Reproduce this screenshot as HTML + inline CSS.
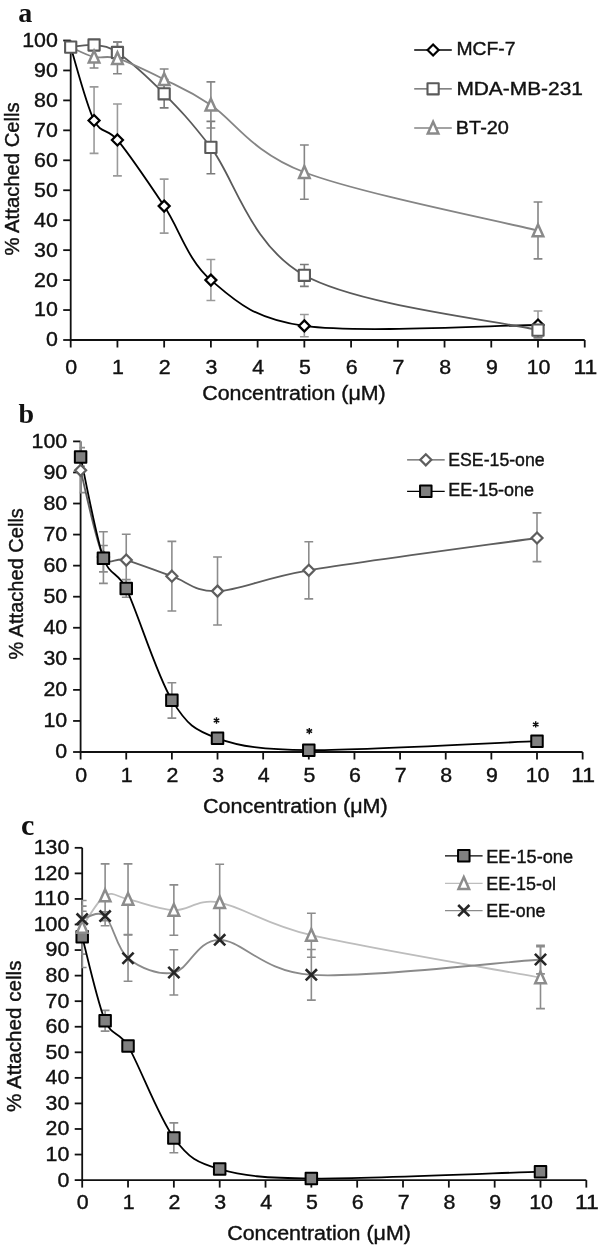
<!DOCTYPE html>
<html><head><meta charset="utf-8"><style>
html,body{margin:0;padding:0;background:#fff;}
svg{filter:grayscale(1);}
svg{display:block;}
text{font-family:"Liberation Sans", sans-serif;fill:#111;stroke:#111;stroke-width:0.4px;}
.pl{font-family:"Liberation Serif", serif;font-weight:bold;stroke:none;}
</style></head><body>
<svg width="598" height="1248" viewBox="0 0 598 1248">
<rect width="598" height="1248" fill="#fff"/>
<path d="M70.7,40.5 V340 H584.73" fill="none" stroke="#111" stroke-width="1.8"/>
<path d="M63.2,340 H70.7" stroke="#111" stroke-width="1.8"/>
<path d="M63.2,310.05 H70.7" stroke="#111" stroke-width="1.8"/>
<path d="M63.2,280.1 H70.7" stroke="#111" stroke-width="1.8"/>
<path d="M63.2,250.15 H70.7" stroke="#111" stroke-width="1.8"/>
<path d="M63.2,220.2 H70.7" stroke="#111" stroke-width="1.8"/>
<path d="M63.2,190.25 H70.7" stroke="#111" stroke-width="1.8"/>
<path d="M63.2,160.3 H70.7" stroke="#111" stroke-width="1.8"/>
<path d="M63.2,130.35 H70.7" stroke="#111" stroke-width="1.8"/>
<path d="M63.2,100.4 H70.7" stroke="#111" stroke-width="1.8"/>
<path d="M63.2,70.45 H70.7" stroke="#111" stroke-width="1.8"/>
<path d="M63.2,40.5 H70.7" stroke="#111" stroke-width="1.8"/>
<path d="M70.7,340 V347.5" stroke="#111" stroke-width="1.8"/>
<path d="M117.43,340 V347.5" stroke="#111" stroke-width="1.8"/>
<path d="M164.16,340 V347.5" stroke="#111" stroke-width="1.8"/>
<path d="M210.89,340 V347.5" stroke="#111" stroke-width="1.8"/>
<path d="M257.62,340 V347.5" stroke="#111" stroke-width="1.8"/>
<path d="M304.35,340 V347.5" stroke="#111" stroke-width="1.8"/>
<path d="M351.08,340 V347.5" stroke="#111" stroke-width="1.8"/>
<path d="M397.81,340 V347.5" stroke="#111" stroke-width="1.8"/>
<path d="M444.54,340 V347.5" stroke="#111" stroke-width="1.8"/>
<path d="M491.27,340 V347.5" stroke="#111" stroke-width="1.8"/>
<path d="M538,340 V347.5" stroke="#111" stroke-width="1.8"/>
<path d="M584.73,340 V347.5" stroke="#111" stroke-width="1.8"/>
<text x="57.9" y="346.4" text-anchor="end" font-size="20.8" textLength="11.9" lengthAdjust="spacingAndGlyphs">0</text>
<text x="57.9" y="316.45" text-anchor="end" font-size="20.8" textLength="23.8" lengthAdjust="spacingAndGlyphs">10</text>
<text x="57.9" y="286.5" text-anchor="end" font-size="20.8" textLength="23.8" lengthAdjust="spacingAndGlyphs">20</text>
<text x="57.9" y="256.55" text-anchor="end" font-size="20.8" textLength="23.8" lengthAdjust="spacingAndGlyphs">30</text>
<text x="57.9" y="226.6" text-anchor="end" font-size="20.8" textLength="23.8" lengthAdjust="spacingAndGlyphs">40</text>
<text x="57.9" y="196.65" text-anchor="end" font-size="20.8" textLength="23.8" lengthAdjust="spacingAndGlyphs">50</text>
<text x="57.9" y="166.7" text-anchor="end" font-size="20.8" textLength="23.8" lengthAdjust="spacingAndGlyphs">60</text>
<text x="57.9" y="136.75" text-anchor="end" font-size="20.8" textLength="23.8" lengthAdjust="spacingAndGlyphs">70</text>
<text x="57.9" y="106.8" text-anchor="end" font-size="20.8" textLength="23.8" lengthAdjust="spacingAndGlyphs">80</text>
<text x="57.9" y="76.85" text-anchor="end" font-size="20.8" textLength="23.8" lengthAdjust="spacingAndGlyphs">90</text>
<text x="57.9" y="46.9" text-anchor="end" font-size="20.8" textLength="35.7" lengthAdjust="spacingAndGlyphs">100</text>
<text x="71.3" y="373.5" text-anchor="middle" font-size="20.8" textLength="11.9" lengthAdjust="spacingAndGlyphs">0</text>
<text x="118.03" y="373.5" text-anchor="middle" font-size="20.8" textLength="11.9" lengthAdjust="spacingAndGlyphs">1</text>
<text x="164.76" y="373.5" text-anchor="middle" font-size="20.8" textLength="11.9" lengthAdjust="spacingAndGlyphs">2</text>
<text x="211.49" y="373.5" text-anchor="middle" font-size="20.8" textLength="11.9" lengthAdjust="spacingAndGlyphs">3</text>
<text x="258.22" y="373.5" text-anchor="middle" font-size="20.8" textLength="11.9" lengthAdjust="spacingAndGlyphs">4</text>
<text x="304.95" y="373.5" text-anchor="middle" font-size="20.8" textLength="11.9" lengthAdjust="spacingAndGlyphs">5</text>
<text x="351.68" y="373.5" text-anchor="middle" font-size="20.8" textLength="11.9" lengthAdjust="spacingAndGlyphs">6</text>
<text x="398.41" y="373.5" text-anchor="middle" font-size="20.8" textLength="11.9" lengthAdjust="spacingAndGlyphs">7</text>
<text x="445.14" y="373.5" text-anchor="middle" font-size="20.8" textLength="11.9" lengthAdjust="spacingAndGlyphs">8</text>
<text x="491.87" y="373.5" text-anchor="middle" font-size="20.8" textLength="11.9" lengthAdjust="spacingAndGlyphs">9</text>
<text x="538.6" y="373.5" text-anchor="middle" font-size="20.8" textLength="23.8" lengthAdjust="spacingAndGlyphs">10</text>
<text x="585.33" y="373.5" text-anchor="middle" font-size="20.8" textLength="23.8" lengthAdjust="spacingAndGlyphs">11</text>
<text x="202.2" y="399.8" font-size="20" textLength="183.5" lengthAdjust="spacingAndGlyphs">Concentration (μM)</text>
<text transform="translate(18.8,255.4) rotate(-90)" font-size="20" textLength="153.1" lengthAdjust="spacingAndGlyphs">% Attached Cells</text>
<text x="18.3" y="22.4" class="pl" font-size="28">a</text>
<clipPath id="clipa"><rect x="69.7" y="40.2" width="534.03" height="299.8"/></clipPath>
<path clip-path="url(#clipa)" d="M94.06,86.92 V153.41 M89.66,86.92 H98.47 M89.66,153.41 H98.47 M117.43,103.99 V175.87 M113.03,103.99 H121.83 M113.03,175.87 H121.83 M164.16,179.17 V233.08 M159.76,179.17 H168.56 M159.76,233.08 H168.56 M210.89,259.43 V300.47 M206.49,259.43 H215.29 M206.49,300.47 H215.29 M304.35,314.54 V336.71 M299.95,314.54 H308.75 M299.95,336.71 H308.75 M538,310.95 V337.6 M533.6,310.95 H542.4 M533.6,337.6 H542.4" fill="none" stroke="#9a9a9a" stroke-width="1.6"/>
<path clip-path="url(#clipa)" d="M117.43,42 V63.26 M113.03,42 H121.83 M113.03,63.26 H121.83 M164.16,79.44 V107.89 M159.76,79.44 H168.56 M159.76,107.89 H168.56 M210.89,121.36 V173.78 M206.49,121.36 H215.29 M206.49,173.78 H215.29 M304.35,264.53 V286.39 M299.95,264.53 H308.75 M299.95,286.39 H308.75 M538,323.53 V337.6 M533.6,323.53 H542.4 M533.6,337.6 H542.4" fill="none" stroke="#7a7a7a" stroke-width="1.6"/>
<path clip-path="url(#clipa)" d="M94.06,46.49 V68.05 M89.66,46.49 H98.47 M89.66,68.05 H98.47 M117.43,42 V73.74 M113.03,42 H121.83 M113.03,73.74 H121.83 M164.16,68.95 V89.92 M159.76,68.95 H168.56 M159.76,89.92 H168.56 M210.89,81.83 V127.95 M206.49,81.83 H215.29 M206.49,127.95 H215.29 M304.35,145.03 V199.23 M299.95,145.03 H308.75 M299.95,199.23 H308.75 M538,201.93 V258.84 M533.6,201.93 H542.4 M533.6,258.84 H542.4" fill="none" stroke="#858585" stroke-width="1.6"/>
<path d="M70.7,47.09 C74.59,59.32 86.28,104.99 94.06,120.47 C100.9,134.05 107.8,128.17 117.43,139.93 C129.11,154.21 148.58,182.76 164.16,206.12 C179.74,229.48 187.52,260.13 210.89,280.1 C234.25,300.07 252.79,318.84 304.35,325.92 C358.87,333.41 499.06,325.17 538,325.02" fill="none" stroke="#000" stroke-width="1.8"/>
<path d="M70.7,47.09 C74.59,46.74 86.28,44.09 94.06,44.99 C101.85,45.89 107.36,45.47 117.43,52.48 C129.11,60.62 148.58,77.99 164.16,93.81 C179.74,109.63 189.15,119.28 210.89,147.42 C234.25,177.67 249.83,244.86 304.35,275.31 C358.87,305.76 499.06,320.98 538,330.12" fill="none" stroke="#5a5a5a" stroke-width="1.8"/>
<path d="M70.7,47.09 C74.59,48.74 86.28,55.08 94.06,56.97 C101.85,58.87 106.28,54.9 117.43,58.47 C129.11,62.21 148.58,71.7 164.16,79.44 C179.74,87.17 188.71,90.2 210.89,104.89 C234.25,120.37 250.58,151.6 304.35,172.28 C358.87,193.25 499.06,220.95 538,230.68" fill="none" stroke="#858585" stroke-width="1.8"/>
<path d="M94.06,114.97 L99.56,120.47 L94.06,125.97 L88.56,120.47Z" fill="#fff" stroke="#000" stroke-width="2.25" stroke-linejoin="miter"/>
<path d="M117.43,134.43 L122.93,139.93 L117.43,145.43 L111.93,139.93Z" fill="#fff" stroke="#000" stroke-width="2.25" stroke-linejoin="miter"/>
<path d="M164.16,200.62 L169.66,206.12 L164.16,211.62 L158.66,206.12Z" fill="#fff" stroke="#000" stroke-width="2.25" stroke-linejoin="miter"/>
<path d="M210.89,274.6 L216.39,280.1 L210.89,285.6 L205.39,280.1Z" fill="#fff" stroke="#000" stroke-width="2.25" stroke-linejoin="miter"/>
<path d="M304.35,320.42 L309.85,325.92 L304.35,331.42 L298.85,325.92Z" fill="#fff" stroke="#000" stroke-width="2.25" stroke-linejoin="miter"/>
<path d="M538,319.52 L543.5,325.02 L538,330.52 L532.5,325.02Z" fill="#fff" stroke="#000" stroke-width="2.25" stroke-linejoin="miter"/>
<rect x="65.1" y="41.49" width="11.2" height="11.2" fill="#fff" stroke="#5a5a5a" stroke-width="2.1" stroke-linejoin="round"/>
<rect x="88.47" y="39.39" width="11.2" height="11.2" fill="#fff" stroke="#5a5a5a" stroke-width="2.1" stroke-linejoin="round"/>
<rect x="111.83" y="46.88" width="11.2" height="11.2" fill="#fff" stroke="#5a5a5a" stroke-width="2.1" stroke-linejoin="round"/>
<rect x="158.56" y="88.21" width="11.2" height="11.2" fill="#fff" stroke="#5a5a5a" stroke-width="2.1" stroke-linejoin="round"/>
<rect x="205.29" y="141.82" width="11.2" height="11.2" fill="#fff" stroke="#5a5a5a" stroke-width="2.1" stroke-linejoin="round"/>
<rect x="298.75" y="269.71" width="11.2" height="11.2" fill="#fff" stroke="#5a5a5a" stroke-width="2.1" stroke-linejoin="round"/>
<rect x="532.4" y="324.52" width="11.2" height="11.2" fill="#fff" stroke="#5a5a5a" stroke-width="2.1" stroke-linejoin="round"/>
<path d="M94.06,50.77 L99.36,62.57 L88.77,62.57Z" fill="#fff" stroke="#8a8a8a" stroke-width="2.5" stroke-linejoin="miter"/>
<path d="M117.43,52.27 L122.73,64.07 L112.13,64.07Z" fill="#fff" stroke="#8a8a8a" stroke-width="2.5" stroke-linejoin="miter"/>
<path d="M164.16,73.23 L169.46,85.03 L158.86,85.03Z" fill="#fff" stroke="#8a8a8a" stroke-width="2.5" stroke-linejoin="miter"/>
<path d="M210.89,98.69 L216.19,110.49 L205.59,110.49Z" fill="#fff" stroke="#8a8a8a" stroke-width="2.5" stroke-linejoin="miter"/>
<path d="M304.35,166.08 L309.65,177.88 L299.05,177.88Z" fill="#fff" stroke="#8a8a8a" stroke-width="2.5" stroke-linejoin="miter"/>
<path d="M538,224.48 L543.3,236.28 L532.7,236.28Z" fill="#fff" stroke="#8a8a8a" stroke-width="2.5" stroke-linejoin="miter"/>
<path d="M414.2,50 H451.8" stroke="#000" stroke-width="1.3"/>
<path d="M433.1,44.5 L438.6,50 L433.1,55.5 L427.6,50Z" fill="#fff" stroke="#000" stroke-width="2.25" stroke-linejoin="miter"/>
<text x="456.4" y="55.4" font-size="19" textLength="59.1" lengthAdjust="spacingAndGlyphs">MCF-7</text>
<path d="M414.2,88.8 H451.8" stroke="#5a5a5a" stroke-width="1.3"/>
<rect x="427.5" y="83.2" width="11.2" height="11.2" fill="#fff" stroke="#5a5a5a" stroke-width="2.1" stroke-linejoin="round"/>
<text x="456.4" y="95" font-size="19" textLength="126.5" lengthAdjust="spacingAndGlyphs">MDA-MB-231</text>
<path d="M414.2,128 H451.8" stroke="#858585" stroke-width="1.3"/>
<path d="M433.1,121.8 L438.4,133.6 L427.8,133.6Z" fill="#fff" stroke="#8a8a8a" stroke-width="2.5" stroke-linejoin="miter"/>
<text x="455.8" y="133.8" font-size="19" textLength="53.1" lengthAdjust="spacingAndGlyphs">BT-20</text>
<path d="M80.6,441.4 V752 H582.64" fill="none" stroke="#111" stroke-width="1.8"/>
<path d="M73.1,752 H80.6" stroke="#111" stroke-width="1.8"/>
<path d="M73.1,720.94 H80.6" stroke="#111" stroke-width="1.8"/>
<path d="M73.1,689.88 H80.6" stroke="#111" stroke-width="1.8"/>
<path d="M73.1,658.82 H80.6" stroke="#111" stroke-width="1.8"/>
<path d="M73.1,627.76 H80.6" stroke="#111" stroke-width="1.8"/>
<path d="M73.1,596.7 H80.6" stroke="#111" stroke-width="1.8"/>
<path d="M73.1,565.64 H80.6" stroke="#111" stroke-width="1.8"/>
<path d="M73.1,534.58 H80.6" stroke="#111" stroke-width="1.8"/>
<path d="M73.1,503.52 H80.6" stroke="#111" stroke-width="1.8"/>
<path d="M73.1,472.46 H80.6" stroke="#111" stroke-width="1.8"/>
<path d="M73.1,441.4 H80.6" stroke="#111" stroke-width="1.8"/>
<path d="M80.6,752 V759.5" stroke="#111" stroke-width="1.8"/>
<path d="M126.24,752 V759.5" stroke="#111" stroke-width="1.8"/>
<path d="M171.88,752 V759.5" stroke="#111" stroke-width="1.8"/>
<path d="M217.52,752 V759.5" stroke="#111" stroke-width="1.8"/>
<path d="M263.16,752 V759.5" stroke="#111" stroke-width="1.8"/>
<path d="M308.8,752 V759.5" stroke="#111" stroke-width="1.8"/>
<path d="M354.44,752 V759.5" stroke="#111" stroke-width="1.8"/>
<path d="M400.08,752 V759.5" stroke="#111" stroke-width="1.8"/>
<path d="M445.72,752 V759.5" stroke="#111" stroke-width="1.8"/>
<path d="M491.36,752 V759.5" stroke="#111" stroke-width="1.8"/>
<path d="M537,752 V759.5" stroke="#111" stroke-width="1.8"/>
<path d="M582.64,752 V759.5" stroke="#111" stroke-width="1.8"/>
<text x="67.2" y="758.4" text-anchor="end" font-size="20.8" textLength="11.9" lengthAdjust="spacingAndGlyphs">0</text>
<text x="67.2" y="727.34" text-anchor="end" font-size="20.8" textLength="23.8" lengthAdjust="spacingAndGlyphs">10</text>
<text x="67.2" y="696.28" text-anchor="end" font-size="20.8" textLength="23.8" lengthAdjust="spacingAndGlyphs">20</text>
<text x="67.2" y="665.22" text-anchor="end" font-size="20.8" textLength="23.8" lengthAdjust="spacingAndGlyphs">30</text>
<text x="67.2" y="634.16" text-anchor="end" font-size="20.8" textLength="23.8" lengthAdjust="spacingAndGlyphs">40</text>
<text x="67.2" y="603.1" text-anchor="end" font-size="20.8" textLength="23.8" lengthAdjust="spacingAndGlyphs">50</text>
<text x="67.2" y="572.04" text-anchor="end" font-size="20.8" textLength="23.8" lengthAdjust="spacingAndGlyphs">60</text>
<text x="67.2" y="540.98" text-anchor="end" font-size="20.8" textLength="23.8" lengthAdjust="spacingAndGlyphs">70</text>
<text x="67.2" y="509.92" text-anchor="end" font-size="20.8" textLength="23.8" lengthAdjust="spacingAndGlyphs">80</text>
<text x="67.2" y="478.86" text-anchor="end" font-size="20.8" textLength="23.8" lengthAdjust="spacingAndGlyphs">90</text>
<text x="67.2" y="447.8" text-anchor="end" font-size="20.8" textLength="35.7" lengthAdjust="spacingAndGlyphs">100</text>
<text x="81.2" y="782.2" text-anchor="middle" font-size="20.8" textLength="11.9" lengthAdjust="spacingAndGlyphs">0</text>
<text x="126.84" y="782.2" text-anchor="middle" font-size="20.8" textLength="11.9" lengthAdjust="spacingAndGlyphs">1</text>
<text x="172.48" y="782.2" text-anchor="middle" font-size="20.8" textLength="11.9" lengthAdjust="spacingAndGlyphs">2</text>
<text x="218.12" y="782.2" text-anchor="middle" font-size="20.8" textLength="11.9" lengthAdjust="spacingAndGlyphs">3</text>
<text x="263.76" y="782.2" text-anchor="middle" font-size="20.8" textLength="11.9" lengthAdjust="spacingAndGlyphs">4</text>
<text x="309.4" y="782.2" text-anchor="middle" font-size="20.8" textLength="11.9" lengthAdjust="spacingAndGlyphs">5</text>
<text x="355.04" y="782.2" text-anchor="middle" font-size="20.8" textLength="11.9" lengthAdjust="spacingAndGlyphs">6</text>
<text x="400.68" y="782.2" text-anchor="middle" font-size="20.8" textLength="11.9" lengthAdjust="spacingAndGlyphs">7</text>
<text x="446.32" y="782.2" text-anchor="middle" font-size="20.8" textLength="11.9" lengthAdjust="spacingAndGlyphs">8</text>
<text x="491.96" y="782.2" text-anchor="middle" font-size="20.8" textLength="11.9" lengthAdjust="spacingAndGlyphs">9</text>
<text x="537.6" y="782.2" text-anchor="middle" font-size="20.8" textLength="23.8" lengthAdjust="spacingAndGlyphs">10</text>
<text x="583.24" y="782.2" text-anchor="middle" font-size="20.8" textLength="23.8" lengthAdjust="spacingAndGlyphs">11</text>
<text x="203" y="813.2" font-size="20" textLength="184.7" lengthAdjust="spacingAndGlyphs">Concentration (μM)</text>
<text transform="translate(23,659.6) rotate(-90)" font-size="20" textLength="151.5" lengthAdjust="spacingAndGlyphs">% Attached Cells</text>
<text x="18.5" y="422.6" class="pl" font-size="28">b</text>
<clipPath id="clipb"><rect x="79.6" y="441.1" width="522.04" height="310.9"/></clipPath>
<path clip-path="url(#clipb)" d="M80.6,432.08 V492.65 M76.2,432.08 H85 M76.2,492.65 H85 M103.42,531.78 V583.34 M99.02,531.78 H107.82 M99.02,583.34 H107.82 M126.24,534.27 V585.83 M121.84,534.27 H130.64 M121.84,585.83 H130.64 M171.88,541.41 V610.99 M167.48,541.41 H176.28 M167.48,610.99 H176.28 M217.52,556.94 V624.96 M213.12,556.94 H221.92 M213.12,624.96 H221.92 M308.8,541.72 V598.87 M304.4,541.72 H313.2 M304.4,598.87 H313.2 M537,512.84 V561.6 M532.6,512.84 H541.4 M532.6,561.6 H541.4" fill="none" stroke="#8c8c8c" stroke-width="1.6"/>
<path clip-path="url(#clipb)" d="M80.6,447.61 V466.25 M76.2,447.61 H85 M76.2,466.25 H85 M103.42,545.45 V571.85 M99.02,545.45 H107.82 M99.02,571.85 H107.82 M126.24,579.62 V597.32 M121.84,579.62 H130.64 M121.84,597.32 H130.64 M171.88,682.74 V718.14 M167.48,682.74 H176.28 M167.48,718.14 H176.28" fill="none" stroke="#8c8c8c" stroke-width="1.6"/>
<path d="M80.6,470.29 C84.4,484.73 95.81,541.98 103.42,556.94 C108.64,567.21 115.15,556.93 126.24,560.05 C137.65,563.26 156.67,571.02 171.88,576.2 C187.09,581.38 194.7,592.09 217.52,591.11 C240.34,590.13 262.62,577.98 308.8,570.3 C362.05,561.45 498.97,543.38 537,538" fill="none" stroke="#5e5e5e" stroke-width="1.8"/>
<path d="M80.6,456.93 C84.4,473.81 95.81,536.24 103.42,558.19 C109.65,576.16 117.98,571.49 126.24,588.62 C137.65,612.28 156.67,675.18 171.88,700.13 C187.09,725.08 194.7,730 217.52,738.33 C240.34,746.67 262.78,749.73 308.8,750.14 C362.05,750.6 498.97,742.63 537,741.13" fill="none" stroke="#000" stroke-width="1.8"/>
<path d="M80.6,464.79 L86.1,470.29 L80.6,475.79 L75.1,470.29Z" fill="#fff" stroke="#5e5e5e" stroke-width="2.25" stroke-linejoin="miter"/>
<path d="M103.42,551.44 L108.92,556.94 L103.42,562.44 L97.92,556.94Z" fill="#fff" stroke="#5e5e5e" stroke-width="2.25" stroke-linejoin="miter"/>
<path d="M126.24,554.55 L131.74,560.05 L126.24,565.55 L120.74,560.05Z" fill="#fff" stroke="#5e5e5e" stroke-width="2.25" stroke-linejoin="miter"/>
<path d="M171.88,570.7 L177.38,576.2 L171.88,581.7 L166.38,576.2Z" fill="#fff" stroke="#5e5e5e" stroke-width="2.25" stroke-linejoin="miter"/>
<path d="M217.52,585.61 L223.02,591.11 L217.52,596.61 L212.02,591.11Z" fill="#fff" stroke="#5e5e5e" stroke-width="2.25" stroke-linejoin="miter"/>
<path d="M308.8,564.8 L314.3,570.3 L308.8,575.8 L303.3,570.3Z" fill="#fff" stroke="#5e5e5e" stroke-width="2.25" stroke-linejoin="miter"/>
<path d="M537,532.5 L542.5,538 L537,543.5 L531.5,538Z" fill="#fff" stroke="#5e5e5e" stroke-width="2.25" stroke-linejoin="miter"/>
<rect x="74.85" y="451.18" width="11.5" height="11.5" fill="#808080" stroke="#000" stroke-width="2.0" stroke-linejoin="round"/>
<rect x="97.67" y="552.44" width="11.5" height="11.5" fill="#808080" stroke="#000" stroke-width="2.0" stroke-linejoin="round"/>
<rect x="120.49" y="582.87" width="11.5" height="11.5" fill="#808080" stroke="#000" stroke-width="2.0" stroke-linejoin="round"/>
<rect x="166.13" y="694.38" width="11.5" height="11.5" fill="#808080" stroke="#000" stroke-width="2.0" stroke-linejoin="round"/>
<rect x="211.77" y="732.58" width="11.5" height="11.5" fill="#808080" stroke="#000" stroke-width="2.0" stroke-linejoin="round"/>
<rect x="303.05" y="744.39" width="11.5" height="11.5" fill="#808080" stroke="#000" stroke-width="2.0" stroke-linejoin="round"/>
<rect x="531.25" y="735.38" width="11.5" height="11.5" fill="#808080" stroke="#000" stroke-width="2.0" stroke-linejoin="round"/>
<path d="M216.5,717.3 L216.5,723.7 M213.73,718.9 L219.27,722.1 M213.73,722.1 L219.27,718.9" stroke="#111" stroke-width="1.45" fill="none"/>
<path d="M309.3,727.9 L309.3,734.3 M306.53,729.5 L312.07,732.7 M306.53,732.7 L312.07,729.5" stroke="#111" stroke-width="1.45" fill="none"/>
<path d="M535.7,721.2 L535.7,727.6 M532.93,722.8 L538.47,726 M532.93,726 L538.47,722.8" stroke="#111" stroke-width="1.45" fill="none"/>
<path d="M407.1,459.8 H444.7" stroke="#5e5e5e" stroke-width="1.3"/>
<path d="M425.8,454.3 L431.3,459.8 L425.8,465.3 L420.3,459.8Z" fill="#fff" stroke="#5e5e5e" stroke-width="2.25" stroke-linejoin="miter"/>
<text x="448.2" y="465.8" font-size="18.5" textLength="96.5" lengthAdjust="spacingAndGlyphs">ESE-15-one</text>
<path d="M407.1,491.3 H444.7" stroke="#000" stroke-width="1.3"/>
<rect x="420.05" y="485.55" width="11.5" height="11.5" fill="#808080" stroke="#000" stroke-width="2.0" stroke-linejoin="round"/>
<text x="448.2" y="496.4" font-size="18.5" textLength="85.9" lengthAdjust="spacingAndGlyphs">EE-15-one</text>
<path d="M82.2,847.82 V1180.1 H586.33" fill="none" stroke="#111" stroke-width="1.8"/>
<path d="M74.7,1180.1 H82.2" stroke="#111" stroke-width="1.8"/>
<path d="M74.7,1154.54 H82.2" stroke="#111" stroke-width="1.8"/>
<path d="M74.7,1128.98 H82.2" stroke="#111" stroke-width="1.8"/>
<path d="M74.7,1103.42 H82.2" stroke="#111" stroke-width="1.8"/>
<path d="M74.7,1077.86 H82.2" stroke="#111" stroke-width="1.8"/>
<path d="M74.7,1052.3 H82.2" stroke="#111" stroke-width="1.8"/>
<path d="M74.7,1026.74 H82.2" stroke="#111" stroke-width="1.8"/>
<path d="M74.7,1001.18 H82.2" stroke="#111" stroke-width="1.8"/>
<path d="M74.7,975.62 H82.2" stroke="#111" stroke-width="1.8"/>
<path d="M74.7,950.06 H82.2" stroke="#111" stroke-width="1.8"/>
<path d="M74.7,924.5 H82.2" stroke="#111" stroke-width="1.8"/>
<path d="M74.7,898.94 H82.2" stroke="#111" stroke-width="1.8"/>
<path d="M74.7,873.38 H82.2" stroke="#111" stroke-width="1.8"/>
<path d="M74.7,847.82 H82.2" stroke="#111" stroke-width="1.8"/>
<path d="M82.2,1180.1 V1187.6" stroke="#111" stroke-width="1.8"/>
<path d="M128.03,1180.1 V1187.6" stroke="#111" stroke-width="1.8"/>
<path d="M173.86,1180.1 V1187.6" stroke="#111" stroke-width="1.8"/>
<path d="M219.69,1180.1 V1187.6" stroke="#111" stroke-width="1.8"/>
<path d="M265.52,1180.1 V1187.6" stroke="#111" stroke-width="1.8"/>
<path d="M311.35,1180.1 V1187.6" stroke="#111" stroke-width="1.8"/>
<path d="M357.18,1180.1 V1187.6" stroke="#111" stroke-width="1.8"/>
<path d="M403.01,1180.1 V1187.6" stroke="#111" stroke-width="1.8"/>
<path d="M448.84,1180.1 V1187.6" stroke="#111" stroke-width="1.8"/>
<path d="M494.67,1180.1 V1187.6" stroke="#111" stroke-width="1.8"/>
<path d="M540.5,1180.1 V1187.6" stroke="#111" stroke-width="1.8"/>
<path d="M586.33,1180.1 V1187.6" stroke="#111" stroke-width="1.8"/>
<text x="69.4" y="1186.5" text-anchor="end" font-size="20.8" textLength="11.9" lengthAdjust="spacingAndGlyphs">0</text>
<text x="69.4" y="1160.94" text-anchor="end" font-size="20.8" textLength="23.8" lengthAdjust="spacingAndGlyphs">10</text>
<text x="69.4" y="1135.38" text-anchor="end" font-size="20.8" textLength="23.8" lengthAdjust="spacingAndGlyphs">20</text>
<text x="69.4" y="1109.82" text-anchor="end" font-size="20.8" textLength="23.8" lengthAdjust="spacingAndGlyphs">30</text>
<text x="69.4" y="1084.26" text-anchor="end" font-size="20.8" textLength="23.8" lengthAdjust="spacingAndGlyphs">40</text>
<text x="69.4" y="1058.7" text-anchor="end" font-size="20.8" textLength="23.8" lengthAdjust="spacingAndGlyphs">50</text>
<text x="69.4" y="1033.14" text-anchor="end" font-size="20.8" textLength="23.8" lengthAdjust="spacingAndGlyphs">60</text>
<text x="69.4" y="1007.58" text-anchor="end" font-size="20.8" textLength="23.8" lengthAdjust="spacingAndGlyphs">70</text>
<text x="69.4" y="982.02" text-anchor="end" font-size="20.8" textLength="23.8" lengthAdjust="spacingAndGlyphs">80</text>
<text x="69.4" y="956.46" text-anchor="end" font-size="20.8" textLength="23.8" lengthAdjust="spacingAndGlyphs">90</text>
<text x="69.4" y="930.9" text-anchor="end" font-size="20.8" textLength="35.7" lengthAdjust="spacingAndGlyphs">100</text>
<text x="69.4" y="905.34" text-anchor="end" font-size="20.8" textLength="35.7" lengthAdjust="spacingAndGlyphs">110</text>
<text x="69.4" y="879.78" text-anchor="end" font-size="20.8" textLength="35.7" lengthAdjust="spacingAndGlyphs">120</text>
<text x="69.4" y="854.22" text-anchor="end" font-size="20.8" textLength="35.7" lengthAdjust="spacingAndGlyphs">130</text>
<text x="82.8" y="1208.8" text-anchor="middle" font-size="20.8" textLength="11.9" lengthAdjust="spacingAndGlyphs">0</text>
<text x="128.63" y="1208.8" text-anchor="middle" font-size="20.8" textLength="11.9" lengthAdjust="spacingAndGlyphs">1</text>
<text x="174.46" y="1208.8" text-anchor="middle" font-size="20.8" textLength="11.9" lengthAdjust="spacingAndGlyphs">2</text>
<text x="220.29" y="1208.8" text-anchor="middle" font-size="20.8" textLength="11.9" lengthAdjust="spacingAndGlyphs">3</text>
<text x="266.12" y="1208.8" text-anchor="middle" font-size="20.8" textLength="11.9" lengthAdjust="spacingAndGlyphs">4</text>
<text x="311.95" y="1208.8" text-anchor="middle" font-size="20.8" textLength="11.9" lengthAdjust="spacingAndGlyphs">5</text>
<text x="357.78" y="1208.8" text-anchor="middle" font-size="20.8" textLength="11.9" lengthAdjust="spacingAndGlyphs">6</text>
<text x="403.61" y="1208.8" text-anchor="middle" font-size="20.8" textLength="11.9" lengthAdjust="spacingAndGlyphs">7</text>
<text x="449.44" y="1208.8" text-anchor="middle" font-size="20.8" textLength="11.9" lengthAdjust="spacingAndGlyphs">8</text>
<text x="495.27" y="1208.8" text-anchor="middle" font-size="20.8" textLength="11.9" lengthAdjust="spacingAndGlyphs">9</text>
<text x="541.1" y="1208.8" text-anchor="middle" font-size="20.8" textLength="23.8" lengthAdjust="spacingAndGlyphs">10</text>
<text x="586.93" y="1208.8" text-anchor="middle" font-size="20.8" textLength="23.8" lengthAdjust="spacingAndGlyphs">11</text>
<text x="227.2" y="1240.3" font-size="20" textLength="183.7" lengthAdjust="spacingAndGlyphs">Concentration (μM)</text>
<text transform="translate(21.2,1112) rotate(-90)" font-size="20" textLength="151.5" lengthAdjust="spacingAndGlyphs">% Attached cells</text>
<text x="21" y="835.3" class="pl" font-size="30">c</text>
<clipPath id="clipc"><rect x="81.2" y="847.52" width="524.13" height="332.58"/></clipPath>
<path clip-path="url(#clipc)" d="M82.2,911.21 V967.44 M77.8,911.21 H86.6 M77.8,967.44 H86.6 M105.12,1010.38 V1031.09 M100.72,1010.38 H109.52 M100.72,1031.09 H109.52 M173.86,1122.85 V1152.75 M169.46,1122.85 H178.26 M169.46,1152.75 H178.26" fill="none" stroke="#8c8c8c" stroke-width="1.6"/>
<path clip-path="url(#clipc)" d="M82.2,900.47 V954.15 M77.8,900.47 H86.6 M77.8,954.15 H86.6 M105.12,863.92 V925.78 M100.72,863.92 H109.52 M100.72,925.78 H109.52 M128.03,863.92 V934.47 M123.63,863.92 H132.43 M123.63,934.47 H132.43 M173.86,884.88 V935.24 M169.46,884.88 H178.26 M169.46,935.24 H178.26 M219.69,864.18 V940.86 M215.29,864.18 H224.09 M215.29,940.86 H224.09 M311.35,913.25 V957.22 M306.95,913.25 H315.75 M306.95,957.22 H315.75 M540.5,946.74 V1008.59 M536.1,946.74 H544.9 M536.1,1008.59 H544.9" fill="none" stroke="#8c8c8c" stroke-width="1.6"/>
<path clip-path="url(#clipc)" d="M82.2,906.1 V932.17 M77.8,906.1 H86.6 M77.8,932.17 H86.6 M105.12,911.72 V920.67 M100.72,911.72 H109.52 M100.72,920.67 H109.52 M128.03,934.98 V981.24 M123.63,934.98 H132.43 M123.63,981.24 H132.43 M173.86,949.8 V995.05 M169.46,949.8 H178.26 M169.46,995.05 H178.26 M311.35,949.55 V1000.16 M306.95,949.55 H315.75 M306.95,1000.16 H315.75 M540.5,945.2 V973.83 M536.1,945.2 H544.9 M536.1,973.83 H544.9" fill="none" stroke="#8c8c8c" stroke-width="1.6"/>
<path d="M82.2,936.77 C86.02,950.78 97.48,1002.67 105.12,1020.86 C111.69,1036.51 119.43,1031.27 128.03,1045.91 C139.49,1065.42 158.58,1117.39 173.86,1137.93 C189.14,1158.46 196.78,1162.34 219.69,1169.11 C242.6,1175.88 265.28,1178.2 311.35,1178.57 C364.82,1178.99 502.31,1172.82 540.5,1171.67" fill="none" stroke="#000" stroke-width="1.8"/>
<path d="M82.2,927.06 C86.02,921.82 97.48,900.26 105.12,895.62 C112.75,890.97 116.69,896.79 128.03,899.2 C139.49,901.62 158.58,909.63 173.86,910.19 C189.14,910.74 196.83,898.35 219.69,902.52 C242.6,906.69 263.97,924.14 311.35,935.24 C364.82,947.76 502.31,970.59 540.5,977.66" fill="none" stroke="#bdbdbd" stroke-width="1.8"/>
<path d="M82.2,919.13 C86.02,918.62 97.48,909.55 105.12,916.07 C112.75,922.58 116.57,948.82 128.03,958.24 C139.49,967.65 158.58,975.62 173.86,972.55 C189.14,969.49 196.78,939.45 219.69,939.84 C242.6,940.22 262.38,971.85 311.35,974.85 C364.82,978.13 502.31,962.07 540.5,959.52" fill="none" stroke="#8a8a8a" stroke-width="1.8"/>
<rect x="76.45" y="931.02" width="11.5" height="11.5" fill="#808080" stroke="#000" stroke-width="2.0" stroke-linejoin="round"/>
<rect x="99.37" y="1015.11" width="11.5" height="11.5" fill="#808080" stroke="#000" stroke-width="2.0" stroke-linejoin="round"/>
<rect x="122.28" y="1040.16" width="11.5" height="11.5" fill="#808080" stroke="#000" stroke-width="2.0" stroke-linejoin="round"/>
<rect x="168.11" y="1132.18" width="11.5" height="11.5" fill="#808080" stroke="#000" stroke-width="2.0" stroke-linejoin="round"/>
<rect x="213.94" y="1163.36" width="11.5" height="11.5" fill="#808080" stroke="#000" stroke-width="2.0" stroke-linejoin="round"/>
<rect x="305.6" y="1172.82" width="11.5" height="11.5" fill="#808080" stroke="#000" stroke-width="2.0" stroke-linejoin="round"/>
<rect x="534.75" y="1165.92" width="11.5" height="11.5" fill="#808080" stroke="#000" stroke-width="2.0" stroke-linejoin="round"/>
<path d="M82.2,920.86 L87.5,932.66 L76.9,932.66Z" fill="#fff" stroke="#8c8c8c" stroke-width="2.5" stroke-linejoin="miter"/>
<path d="M105.12,889.42 L110.42,901.22 L99.82,901.22Z" fill="#fff" stroke="#8c8c8c" stroke-width="2.5" stroke-linejoin="miter"/>
<path d="M128.03,893 L133.33,904.8 L122.73,904.8Z" fill="#fff" stroke="#8c8c8c" stroke-width="2.5" stroke-linejoin="miter"/>
<path d="M173.86,903.99 L179.16,915.79 L168.56,915.79Z" fill="#fff" stroke="#8c8c8c" stroke-width="2.5" stroke-linejoin="miter"/>
<path d="M219.69,896.32 L224.99,908.12 L214.39,908.12Z" fill="#fff" stroke="#8c8c8c" stroke-width="2.5" stroke-linejoin="miter"/>
<path d="M311.35,929.04 L316.65,940.84 L306.05,940.84Z" fill="#fff" stroke="#8c8c8c" stroke-width="2.5" stroke-linejoin="miter"/>
<path d="M540.5,971.46 L545.8,983.26 L535.2,983.26Z" fill="#fff" stroke="#8c8c8c" stroke-width="2.5" stroke-linejoin="miter"/>
<path d="M76.6,913.53 L87.8,924.73 M87.8,913.53 L76.6,924.73" stroke="#262626" stroke-width="2.6" fill="none"/>
<path d="M99.52,910.47 L110.72,921.67 M110.72,910.47 L99.52,921.67" stroke="#262626" stroke-width="2.6" fill="none"/>
<path d="M122.43,952.64 L133.63,963.84 M133.63,952.64 L122.43,963.84" stroke="#262626" stroke-width="2.6" fill="none"/>
<path d="M168.26,966.95 L179.46,978.15 M179.46,966.95 L168.26,978.15" stroke="#262626" stroke-width="2.6" fill="none"/>
<path d="M214.09,934.24 L225.29,945.44 M225.29,934.24 L214.09,945.44" stroke="#262626" stroke-width="2.6" fill="none"/>
<path d="M305.75,969.25 L316.95,980.45 M316.95,969.25 L305.75,980.45" stroke="#262626" stroke-width="2.6" fill="none"/>
<path d="M534.9,953.92 L546.1,965.12 M546.1,953.92 L534.9,965.12" stroke="#262626" stroke-width="2.6" fill="none"/>
<path d="M445,855.8 H482.6" stroke="#000" stroke-width="1.3"/>
<rect x="458.05" y="850.05" width="11.5" height="11.5" fill="#808080" stroke="#000" stroke-width="2.0" stroke-linejoin="round"/>
<text x="486.2" y="862.9" font-size="18.5" textLength="86.8" lengthAdjust="spacingAndGlyphs">EE-15-one</text>
<path d="M445,883.3 H482.6" stroke="#bdbdbd" stroke-width="1.3"/>
<path d="M463.8,877.1 L469.1,888.9 L458.5,888.9Z" fill="#fff" stroke="#8c8c8c" stroke-width="2.5" stroke-linejoin="miter"/>
<text x="486.2" y="889.9" font-size="18.5" textLength="69.7" lengthAdjust="spacingAndGlyphs">EE-15-ol</text>
<path d="M445,910.6 H482.6" stroke="#8a8a8a" stroke-width="1.3"/>
<path d="M458.2,905 L469.4,916.2 M469.4,905 L458.2,916.2" stroke="#262626" stroke-width="2.6" fill="none"/>
<text x="486.2" y="916.7" font-size="18.5" textLength="59.2" lengthAdjust="spacingAndGlyphs">EE-one</text>
</svg>
</body></html>
